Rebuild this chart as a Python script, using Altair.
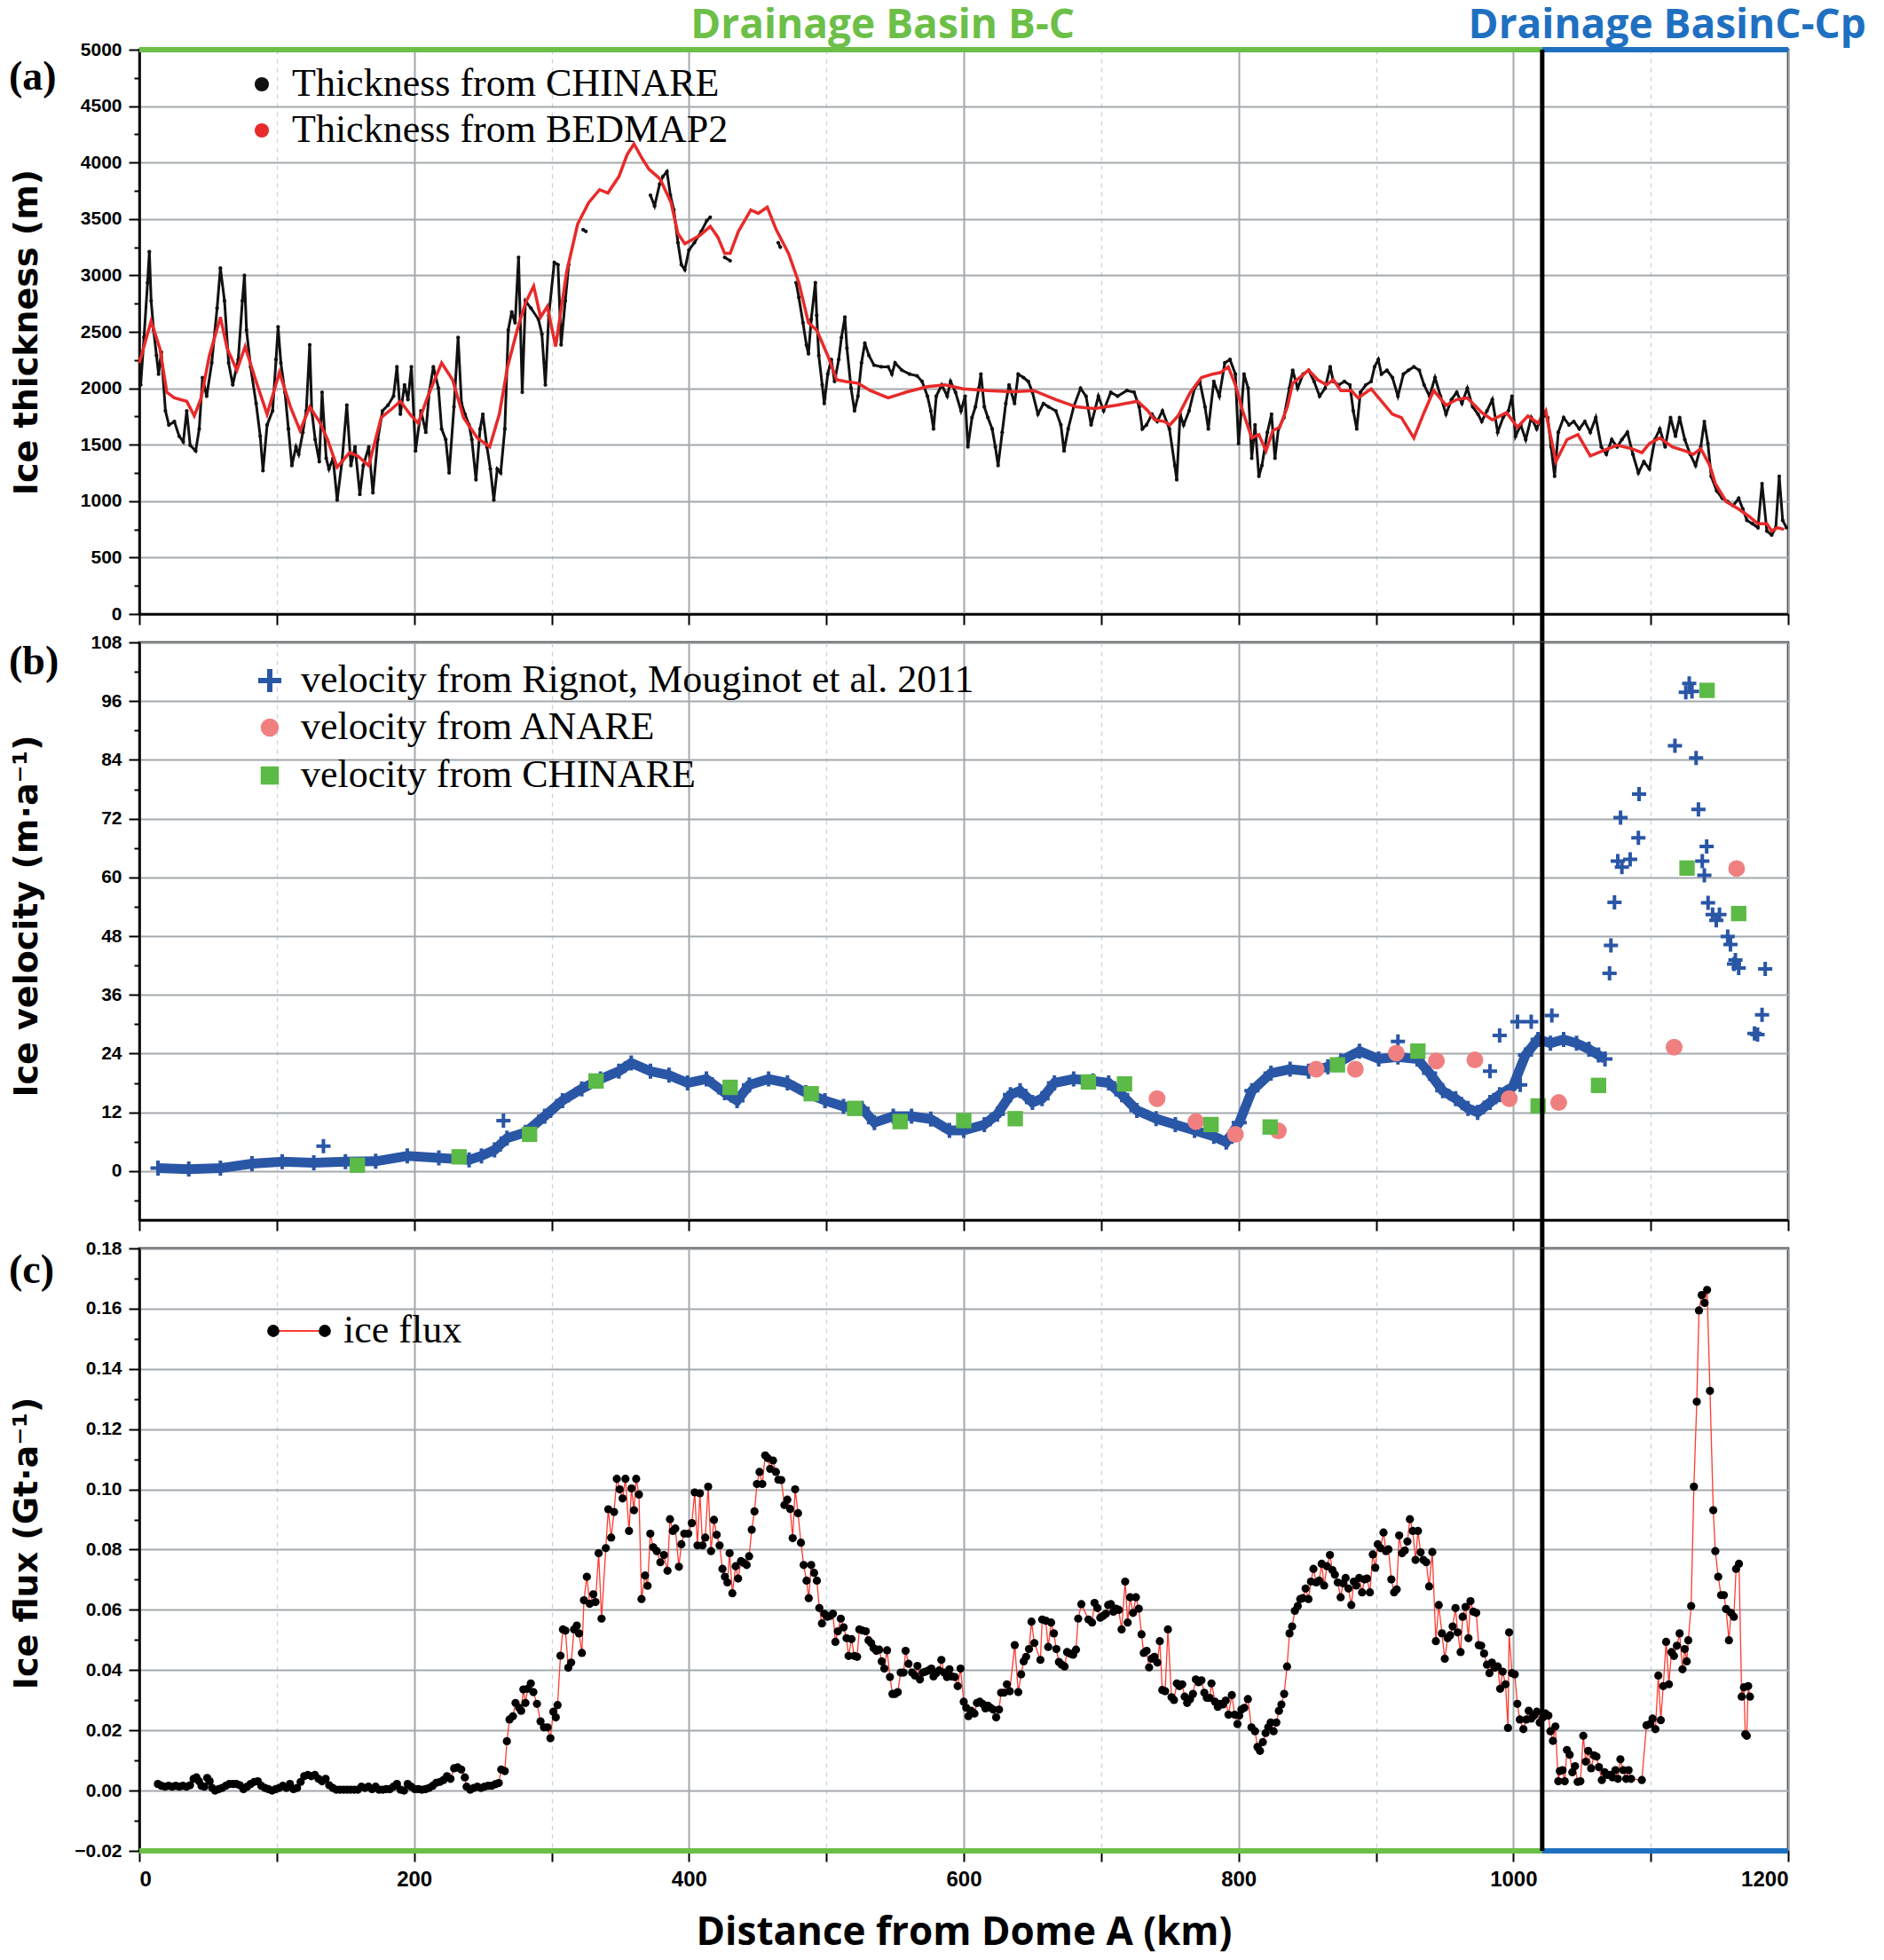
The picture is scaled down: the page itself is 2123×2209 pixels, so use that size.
import altair as alt
import pandas as pd

# ------------------------------------------------------------------ data
# (a) ice thickness, CHINARE radar (km, m)
thk_chinare = [
    (1, 2030), (3.4, 2450), (6, 2935), (7.3, 3210), (8.6, 2775), (10.4, 2515), (12.5, 2290), (14, 2125),
    (16, 2320), (19, 1800), (21.5, 1675), (25.5, 1705), (29, 1575), (32, 1525), (34.5, 1800), (37, 1495),
    (41, 1445), (43.6, 1640), (46, 2095), (49, 1930), (52.7, 2225), (56.6, 2710), (59, 3065), (62, 2775),
    (65, 2225), (68, 2030), (72, 2255), (75, 2775), (76.5, 3000), (78, 2515), (81, 2190), (85, 1865),
    (88, 1575), (90, 1270), (93, 1675), (97, 1800), (99.5, 2255), (101, 2545), (103, 2225), (106, 1965),
    (108.5, 1640), (111, 1315), (114, 1480), (116, 1415), (119, 1610), (121.5, 1800), (124, 2385),
    (125.5, 1800), (128, 1545), (131, 1350), (133, 1965), (136, 1380), (138, 1285), (141, 1380),
    (144, 1010), (147.5, 1350), (151, 1850), (154, 1315), (157, 1480), (160.5, 1060), (163, 1315),
    (167, 1480), (170, 1075), (173.5, 1545), (177, 1800), (181, 1850), (185, 1930), (187.5, 2190),
    (190, 1770), (193, 2030), (195.5, 1900), (198, 2190), (201, 1445), (205, 1800), (208.5, 1610),
    (211, 1965), (214, 2190), (217.7, 2000), (220, 1640), (223, 1545), (225.5, 1250), (229, 1835),
    (232, 2450), (234.5, 1865), (237, 1770), (240, 1675), (242, 1545), (245, 1190), (248, 1640),
    (250, 1770), (253, 1480), (255.5, 1285), (258, 1010), (260.5, 1285), (263, 1250), (266, 1640),
    (268.5, 2515), (271, 2675), (273.5, 2580), (276, 3160), (278.7, 1965), (281, 2775), (285, 2710),
    (290.5, 2610), (293, 2480), (295.5, 2030), (298, 2645), (302, 3115), (304.7, 3095), (307, 2385),
    (310, 2775), (312.5, 3095), (323, 3405), (325, 3390), (372, 3710), (375, 3615), (378.7, 3810),
    (381, 3875), (384, 3920), (386.5, 3710), (389, 3580), (392, 3290), (394.5, 3095), (397, 3050),
    (400, 3225), (404, 3290), (409, 3390), (413, 3485), (415.5, 3515), (426, 3160), (430, 3130),
    (465, 3290), (466.5, 3250), (478, 2935), (480, 2805), (483, 2580), (485.5, 2385), (487, 2305),
    (489, 2610), (492, 2935), (493, 2645), (494.5, 2290), (497, 2030), (498.5, 1865), (501, 2125),
    (503.6, 2255), (506, 2060), (509, 2255), (511, 2450), (513.5, 2630), (515, 2355), (518, 2000),
    (520.5, 1800), (523, 1930), (525.6, 2225), (528, 2400), (531, 2290), (534.7, 2205), (540, 2190),
    (545, 2190), (547.7, 2125), (550, 2225), (555, 2160), (560.6, 2125), (566, 2110), (569.7, 2060),
    (573.6, 1930), (576, 1800), (578, 1640), (580, 1930), (584, 2030), (588, 1930), (590.4, 2060),
    (594, 1965), (598, 1800), (601, 1930), (603, 1480), (606, 1740), (608.5, 1835), (611, 2000),
    (612.5, 2125), (615, 1835), (617.6, 1740), (620.7, 1640), (623, 1480), (625, 1315), (628, 1610),
    (630.6, 1865), (633, 2030), (637, 1865), (639.6, 2125), (643.5, 2095), (647, 2060), (650, 1965),
    (654, 1770), (658, 1865), (661.7, 1835), (667, 1800), (670.7, 1675), (673, 1445), (676, 1640),
    (680, 1835), (685, 2000), (689, 1930), (692.7, 1675), (698, 1930), (701.8, 1800), (707, 1965),
    (712, 1930), (718.7, 1980), (724, 1965), (727.7, 1835), (730, 1640), (733, 1675), (737, 1770),
    (740.8, 1705), (744.6, 1800), (749.7, 1640), (753.6, 1315), (755, 1190), (757.5, 1770), (760, 1675),
    (764, 1800), (768, 2000), (771.8, 2060), (775.6, 1835), (778, 1640), (782, 2060), (786, 1930),
    (790, 2225), (793.8, 2255), (797.7, 2125), (800, 1510), (802, 1800), (804, 2125), (807, 2000),
    (809.6, 1380), (812, 1675), (814.8, 1220), (817, 1315), (821, 1610), (824, 1770), (826.5, 1380),
    (829, 1640), (833, 1740), (837, 2000), (839.4, 2160), (843, 2000), (847, 2125), (851, 2160),
    (855, 2060), (859, 1930), (863, 2000), (866.7, 2190), (869, 2060), (873, 2030), (877, 2060),
    (881, 2030), (883.5, 1800), (886, 1640), (888.7, 1965), (892.6, 2030), (896.5, 2060), (899, 2190),
    (901.7, 2255), (904, 2125), (908, 2160), (912, 2095), (916, 1930), (920, 2125), (923.7, 2160),
    (927.6, 2190), (931.5, 2160), (935, 2030), (939, 1930), (943, 2095), (947, 1930), (951, 1770),
    (955, 1900), (958.8, 1965), (962.6, 1865), (966.5, 2000), (970.4, 1835), (974.3, 1770), (977, 1705),
    (980.8, 1800), (984.7, 1900), (988.6, 1610), (992.5, 1740), (996.4, 1800), (999, 1930),
    (1001.6, 1575), (1005.4, 1675), (1009, 1545), (1013, 1740), (1017, 1640), (1021, 1770), (1025, 1740),
    (1027.5, 1480), (1030, 1220), (1032.7, 1610), (1036.6, 1740), (1040.5, 1675), (1044, 1705),
    (1048, 1640), (1052, 1705), (1056, 1610), (1060, 1740), (1064, 1480), (1067.7, 1415), (1071.6, 1545),
    (1075.5, 1480), (1079, 1545), (1083, 1610), (1087, 1415), (1091, 1250), (1095, 1350), (1099, 1285),
    (1103, 1545), (1106.6, 1640), (1110.5, 1480), (1114.4, 1740), (1118, 1575), (1121, 1740),
    (1124.8, 1545), (1128.7, 1415), (1132.6, 1315), (1136.4, 1480), (1139, 1705), (1141.6, 1510),
    (1144, 1220), (1148, 1090), (1152, 1025), (1156, 995), (1160, 960), (1164, 1025), (1167, 930),
    (1170, 830), (1174, 800), (1178, 765), (1181, 1155), (1184.5, 735), (1188, 700), (1191, 765),
    (1193.5, 1220), (1196, 830), (1198.7, 765),
]

# (a) ice thickness, BEDMAP2 (km, m)
thk_bedmap = [
    (0, 2225), (8.6, 2595), (15, 2350), (20, 1965), (25.5, 1915), (34.5, 1885), (40, 1755), (45, 1915),
    (51, 2290), (59, 2630), (64, 2350), (71, 2160), (77, 2370), (85, 2060), (93, 1770), (102, 2140),
    (110, 1835), (117, 1625), (124, 1835), (131, 1705), (137, 1545), (144, 1300), (153, 1430),
    (159, 1400), (167, 1315), (176, 1740), (184, 1820), (190, 1885), (197, 1770), (203, 1690),
    (210, 1930), (220, 2225), (228, 2075), (236, 1740), (246, 1560), (255, 1480), (262, 1770),
    (268, 2190), (275, 2515), (281, 2755), (287, 2905), (292, 2630), (297, 2725), (303, 2370),
    (311, 3030), (319, 3455), (327, 3645), (335, 3760), (341, 3730), (349, 3875), (355, 4070),
    (360, 4165), (366, 4035), (371, 3940), (379, 3855), (387, 3645), (392, 3370), (397, 3280),
    (408, 3355), (415.5, 3435), (421, 3340), (426, 3195), (430, 3195), (436, 3390), (445, 3580),
    (450.5, 3550), (457, 3605), (463.5, 3405), (472.5, 3195), (480, 2935), (487, 2580), (493, 2515),
    (501, 2290), (507.5, 2075), (514, 2060), (523, 2045), (532, 1980), (545, 1915), (558, 1965),
    (573.5, 2015), (586.5, 2030), (599.5, 1995), (617.6, 1980), (635.8, 1970), (651, 1980), (667, 1900),
    (682, 1835), (695, 1820), (711, 1850), (726.5, 1885), (734, 1800), (739, 1720), (746, 1705),
    (750, 1675), (756, 1755), (765, 1965), (773, 2095), (781, 2125), (787, 2140), (792.5, 2190),
    (797.7, 2030), (803, 1800), (809.6, 1560), (814.8, 1590), (820, 1445), (825, 1625), (830, 1655),
    (835.5, 1835), (839.4, 2045), (846, 2110), (851, 2160), (857.6, 2075), (864, 2030), (869, 2075),
    (874.5, 1980), (882, 1980), (887, 1915), (896.5, 1995), (904, 1885), (912, 1770), (918.5, 1740),
    (927.6, 1560), (935, 1785), (942, 1980), (951, 1850), (958.8, 1900), (966.5, 1915), (977, 1785),
    (984.7, 1720), (995, 1785), (1003, 1655), (1010.6, 1755), (1018, 1690), (1023.6, 1800), (1026, 1640),
    (1031, 1350), (1039, 1545), (1047, 1590), (1056, 1400), (1065, 1445), (1075.5, 1495), (1086, 1465),
    (1093.6, 1430), (1099, 1510), (1106.6, 1560), (1115.7, 1480), (1124.8, 1445), (1131, 1415),
    (1136.4, 1465), (1143, 1315), (1147, 1155), (1155, 995), (1164, 930), (1171.5, 865), (1178, 800),
    (1184.5, 800), (1188, 735), (1192, 765), (1197, 750),
]

# (b) velocity, Rignot/Mouginot 2011 - continuous dense part (km, m/a)
vel_rignot_band = [
    (13.6, 0.6), (36, 0.4), (59, 0.6), (82, 1.5), (104, 1.9), (127, 1.7), (150, 1.9), (172, 2.0),
    (195, 3.1), (218, 2.7), (240, 2.3), (249, 3.1), (258.5, 4.3), (267.6, 6.7), (281, 7.9), (295, 11.2),
    (308, 14.4), (322, 16.8), (335.6, 18.8), (349, 20.4), (358, 22.1), (372, 20.4), (385.5, 19.6),
    (399, 18.0), (412.7, 18.8), (426, 16.0), (435, 14.4), (444, 17.6), (458, 18.8), (471.7, 18.0),
    (485, 16.0), (499, 14.4), (512.5, 13.2), (526, 12.8), (535, 9.9), (548.7, 11.2), (562, 11.2),
    (576, 10.6), (589.6, 8.3), (600, 8.3), (615, 9.5), (624.5, 11.6), (634, 15.6), (641, 16.4),
    (650, 14.0), (657, 14.8), (666, 18.0), (680, 18.8), (694, 18.4), (705.5, 18.0), (715, 15.6),
    (726, 12.4), (740, 10.7), (754, 9.5), (768, 8.3), (782, 7.1), (791, 5.9), (800.5, 9.9), (809.7, 16.4),
    (823.6, 20.0), (837.5, 20.8), (851, 20.4), (865, 21.3), (874.5, 22.5), (888, 24.5), (902, 22.9),
    (916, 23.3), (930, 22.9), (939, 20.0), (948.6, 16.4), (958, 14.8), (967, 12.8), (974, 12.0),
    (983, 14.0), (990, 15.6), (999.5, 17.2), (1008.8, 23.7), (1018, 26.9), (1027, 26.1), (1036.6, 26.9),
    (1046, 26.1), (1055, 24.9), (1062, 23.7), (1066.7, 22.9),
]
# (b) velocity, Rignot/Mouginot 2011 - isolated points (km, m/a)
vel_rignot_sparse = [
    (134, 5.1), (265, 10.3), (916, 26.5), (983, 20.4), (990, 27.7), (1003, 30.5), (1005, 17.6),
    (1013, 30.5), (1028, 31.8), (1070, 40.4), (1071, 46.1), (1073.6, 54.9), (1076, 63.3), (1079, 62.1),
    (1078, 72.2), (1085, 63.7), (1091, 68.1), (1091.5, 77.0), (1117.6, 86.9), (1125.5, 97.8),
    (1128, 99.6), (1130, 98.0), (1133, 84.4), (1134.7, 73.9), (1137.5, 63.3), (1139, 60.4),
    (1140.7, 66.3), (1141.7, 54.8), (1145, 52.4), (1147.7, 51.2), (1150, 52.4), (1156, 47.9),
    (1158, 46.3), (1160.6, 42.3), (1161.6, 43.1), (1164, 41.5), (1175.5, 28.1), (1177.7, 27.9),
    (1181, 31.9), (1183.3, 41.3),
]
vel_anare = [
    (740.7, 14.8), (769, 10.1), (797.7, 7.5), (829, 8.2), (856.5, 20.8), (885, 20.8), (914.8, 24.1),
    (944, 22.5), (972, 22.7), (997, 14.8), (1033, 14.0), (1117, 25.3), (1162.5, 61.8),
]
vel_chinare = [
    (158.7, 1.2), (232.7, 2.9), (284, 7.5), (332.4, 18.4), (430, 17.1), (489, 15.8), (520.6, 12.8),
    (553.7, 10.1), (600, 10.3), (637.5, 10.7), (690.7, 18.2), (717, 17.8), (780, 9.5), (823, 9.0),
    (872, 21.7), (930.5, 24.5), (1018, 13.3), (1062, 17.5), (1126.4, 61.9), (1141, 98.2), (1164, 52.6),
]

# (c) ice flux (km, Gt/a)
flux = [
    (13.5, 0.0022), (16.1, 0.0016), (18.7, 0.0013), (21.3, 0.0016), (23.9, 0.0013), (26.5, 0.0016),
    (29.1, 0.0013), (31.7, 0.0016), (34.3, 0.0013), (36.9, 0.0018), (39.5, 0.0039), (41.6, 0.0044),
    (43.4, 0.0031), (45.2, 0.0016), (47.3, 0.0013), (49.4, 0.0042), (51.2, 0.0031), (53, 0.0009),
    (55.1, 0.0), (57.7, 0.0005), (60.3, 0.0009), (62.9, 0.0016), (65.5, 0.0022), (68.1, 0.0022),
    (70.6, 0.0022), (73.2, 0.0018), (75.8, 0.0005), (78.4, 0.0013), (81, 0.0022), (83.6, 0.0029),
    (86.2, 0.0031), (88.8, 0.0016), (91.4, 0.0009), (94, 0.0005), (96.6, 0.0), (99.2, 0.0005),
    (101.8, 0.0009), (104.4, 0.0016), (107, 0.0009), (109.6, 0.0022), (112.2, 0.0005), (114.8, 0.0009),
    (117.4, 0.0029), (120, 0.0048), (122.6, 0.0052), (125.2, 0.0048), (127.8, 0.0052), (130.4, 0.0039),
    (133, 0.0031), (135.6, 0.0039), (138.2, 0.0018), (140.8, 0.0009), (143.4, 0.0003), (146, 0.0003),
    (148.6, 0.0003), (151.2, 0.0003), (153.8, 0.0003), (156.4, 0.0003), (159, 0.0003), (161.6, 0.0013),
    (164.2, 0.0009), (166.8, 0.0013), (169.4, 0.0005), (172, 0.0013), (174.5, 0.0003), (177.1, 0.0003),
    (179.7, 0.0005), (182.3, 0.0005), (184.9, 0.0013), (187.5, 0.0022), (190.1, 0.0003), (192.7, 0.0),
    (195.3, 0.0022), (197.9, 0.0013), (200.5, 0.0005), (203.1, 0.0005), (205.7, 0.0003), (208.3, 0.0005),
    (210.9, 0.0009), (213.5, 0.0016), (216.1, 0.0026), (218.7, 0.0029), (221.3, 0.0035), (223.9, 0.0048),
    (226.5, 0.0039), (229.1, 0.0074), (231.7, 0.0077), (234.3, 0.007), (236.9, 0.0044), (238.2, 0.0013),
    (240.8, 0.0003), (243.4, 0.0009), (246, 0.0013), (248.6, 0.0009), (251.2, 0.0013), (253.8, 0.0016),
    (256.4, 0.0016), (259, 0.0021), (261.6, 0.0025), (263.4, 0.007), (266, 0.0065), (267.5, 0.0164),
    (269.4, 0.0236), (271.9, 0.0247), (273.8, 0.0291), (276.4, 0.0275), (277.9, 0.0265), (279.5, 0.0336),
    (281, 0.0291), (282.6, 0.0338), (284.9, 0.0356), (286.8, 0.0327), (289.4, 0.0288), (292, 0.023),
    (294.5, 0.021), (297.1, 0.021), (299.2, 0.0174), (301.3, 0.0262), (303.1, 0.0243), (304.4, 0.0284),
    (306.5, 0.0448), (308.3, 0.0535), (310.1, 0.0531), (312.2, 0.0408), (314.3, 0.0425), (316.4, 0.0535),
    (318.4, 0.0548), (320, 0.0522), (322.1, 0.0457), (323.6, 0.0632), (325.7, 0.071), (327.8, 0.062),
    (330.4, 0.0652), (332, 0.0626), (334.3, 0.0788), (336.4, 0.0571), (339.5, 0.0805), (341.3, 0.0934),
    (343.4, 0.084), (345.5, 0.0925), (347.5, 0.1035), (349.6, 0.1), (351.7, 0.097), (353.8, 0.1035),
    (356.4, 0.0862), (358.2, 0.1003), (360, 0.0931), (361.6, 0.1035), (363.6, 0.0983), (365.5, 0.0636),
    (368.1, 0.0714), (369.9, 0.068), (371.9, 0.0853), (374, 0.0808), (376.6, 0.0795), (379.2, 0.0758),
    (381.8, 0.0782), (384.4, 0.073), (386.2, 0.0901), (388.3, 0.0862), (390.1, 0.087), (392.7, 0.0743),
    (394.5, 0.0818), (396.6, 0.0853),
    (399.5, 0.0853), (402.1, 0.0888), (404.2, 0.099), (406.2, 0.0814), (408, 0.0987), (409.9, 0.0814),
    (411.9, 0.084), (414, 0.1009), (416.1, 0.0795), (418.2, 0.0899), (420.2, 0.0849), (422.3, 0.0814),
    (424.4, 0.0736), (426.2, 0.071), (428, 0.0691), (429.6, 0.0788), (431.6, 0.0655), (434, 0.0745),
    (435.8, 0.0704), (437.9, 0.0762), (439.9, 0.0756), (442, 0.0749), (443.8, 0.0778), (445.7, 0.0866),
    (447.7, 0.0927), (449.5, 0.1018), (451.4, 0.1058), (453.4, 0.1018), (455.5, 0.1113), (457.3, 0.1104),
    (459.1, 0.1068), (461.2, 0.1096), (463.3, 0.1058), (465.1, 0.1032), (467.2, 0.1031), (469.5, 0.0948),
    (471.6, 0.0966), (473.7, 0.0935), (475.5, 0.0838), (477.3, 0.1), (479.4, 0.0921), (481.5, 0.0823),
    (483.5, 0.0749), (485.6, 0.0697), (487.2, 0.0639), (489, 0.0749), (491.1, 0.0723), (493.1, 0.0697),
    (494.9, 0.0606), (496.8, 0.0555), (498.6, 0.0587), (500.6, 0.0577), (502.7, 0.058), (504.8, 0.0587),
    (506.6, 0.0494), (508.4, 0.0529), (510.5, 0.0571), (512.6, 0.0542), (514.7, 0.0506), (516.2, 0.0447),
    (518.3, 0.0503), (520.4, 0.0447), (522.4, 0.0444), (524, 0.0535), (526.1, 0.0532), (528.7, 0.0529),
    (530.7, 0.0499), (532.6, 0.049), (534.4, 0.0473), (536.4, 0.0464), (538.5, 0.0468), (540.3, 0.0429),
    (542.2, 0.0405), (544.2, 0.0466), (546.3, 0.0377), (548.1, 0.0321), (549.9, 0.0321), (552, 0.0327),
    (554.1, 0.0392), (556.2, 0.0392), (557.7, 0.0464), (559.8, 0.0421), (562.4, 0.0392), (564.5, 0.0382),
    (566.3, 0.0414), (568.1, 0.0369), (570.2, 0.0392), (572.2, 0.0395), (574.3, 0.0399), (576.4, 0.0405),
    (578, 0.0379), (580, 0.039), (582.1, 0.0399), (583.7, 0.0434), (585.7, 0.0392), (587.8, 0.0377),
    (589.6, 0.0403), (591.4, 0.0379), (593.5, 0.0377), (595.6, 0.0347), (597.7, 0.0405), (600, 0.0295),
    (601.8, 0.0275), (603.4, 0.0247), (605.4, 0.0265), (607.8, 0.0256), (609.6, 0.0291), (611.7, 0.0295),
    (613.7, 0.0288), (615.8, 0.0273), (617.6, 0.0282), (619.5, 0.0275), (621.5, 0.0269), (623.6, 0.0243),
    (625.7, 0.0269), (627.2, 0.0325), (629.3, 0.0325), (631.4, 0.0353), (633.5, 0.033), (637.1, 0.0483),
    (639.7, 0.0327), (641.8, 0.0386), (643.6, 0.0429), (645.4, 0.0444), (647.5, 0.047), (649.3, 0.0561),
    (651.4, 0.049), (655.8, 0.0434), (657.1, 0.0568), (659.7, 0.0564), (661.5, 0.0477), (663.6, 0.0558),
    (665.6, 0.0522), (667.4, 0.047), (669.3, 0.0427), (671.3, 0.0418), (673.4, 0.0412), (675.2, 0.046),
    (677.3, 0.0455), (679.6, 0.0451), (681.7, 0.0468), (683.3, 0.0571), (685.6, 0.0619), (690.8, 0.0568),
    (693.4, 0.0558), (695.2, 0.0623), (697.3, 0.0606), (699.4, 0.0574), (701.4, 0.058), (703.5, 0.0587),
    (705.1, 0.0616), (707.1, 0.0619), (708.9, 0.0594), (710.8, 0.0604), (712.8, 0.06), (714.9, 0.0535),
    (717.5, 0.0694), (719.3, 0.0558), (721.1, 0.0642), (723.2, 0.059), (725.3, 0.0642), (727.4, 0.0604),
    (729.4, 0.0519), (731, 0.0457), (733.1, 0.0464), (734.9, 0.0409), (736.7, 0.0438), (738.8, 0.0444),
    (740.9, 0.0425), (742.7, 0.0496), (744.5, 0.0334), (746.6, 0.033), (748.6, 0.0535), (751.2, 0.031),
    (753, 0.0301), (755.1, 0.0356), (756.9, 0.0347), (759, 0.0353), (760.8, 0.0312), (762.6, 0.0291),
    (764.7, 0.0304), (766.8, 0.0321), (768.9, 0.0369), (770.9, 0.036), (773, 0.0366), (775.1, 0.0325),
    (776.9, 0.0308), (779, 0.0308), (780.3, 0.0356), (782.9, 0.0295), (784.9, 0.0278), (786.8, 0.0288),
    (788.6, 0.0286), (790.7, 0.0299), (792.7, 0.0252), (795.1, 0.0317), (797.2, 0.0252), (799.2, 0.0221),
    (800.5, 0.0249), (802.1, 0.0269), (804.2, 0.0275), (806.8, 0.0304), (809.4, 0.021), (812, 0.0197),
    (813.8, 0.0145), (815.6, 0.0132), (817.7, 0.0161), (819.7, 0.0191), (821.6, 0.021), (823.4, 0.0226),
    (825.5, 0.0197), (827.5, 0.0226), (829.4, 0.0265), (831.2, 0.0286), (833.2, 0.0321), (835.3, 0.0412),
    (837.1, 0.0522), (839, 0.0545), (841, 0.0597), (843.1, 0.0613), (844.9, 0.0636), (846.8, 0.0639),
    (848.8, 0.0671), (850.9, 0.0636), (852.7, 0.0694), (854.5, 0.0736), (856.6, 0.0691), (858.7, 0.0697),
    (860.5, 0.0753), (862.3, 0.0681), (864.4, 0.0745), (866.5, 0.0782), (868.3, 0.0732), (870.1, 0.0717),
    (872.2, 0.0691), (874.3, 0.0642), (876.1, 0.0688), (877.9, 0.0706), (880, 0.0671), (882.1, 0.0616),
    (883.9, 0.0694), (885.7, 0.0681), (887.8, 0.0706), (889.9, 0.0658), (891.7, 0.0701), (893.5, 0.0704),
    (895.6, 0.0658), (897.7, 0.0784), (899.5, 0.074), (901.3, 0.0818), (903.4, 0.0805), (905.5, 0.0857),
    (907.3, 0.0795), (909.1, 0.0801), (911.2, 0.0701), (913.2, 0.0658), (915.1, 0.0668), (916.9, 0.0847),
    (919, 0.0788), (921, 0.0797), (922.9, 0.0827), (924.7, 0.0901), (926.8, 0.0862), (928.8, 0.0766),
    (930.6, 0.0862), (932.5, 0.0791), (934.5, 0.0766), (936.6, 0.0758), (938.7, 0.0678), (941, 0.0792),
    (943.6, 0.0496), (945.7, 0.0616), (948, 0.0522), (950.1, 0.0438), (952.2, 0.0506), (954, 0.0516),
    (955.8, 0.0545), (957.9, 0.0606), (959.5, 0.0525), (961.6, 0.046), (963.1, 0.0577), (965.2, 0.061),
    (967.3, 0.0506), (968.8, 0.0629), (970.9, 0.0594), (973, 0.059), (974.8, 0.0483), (976.6, 0.0481),
    (978.7, 0.0455), (980.8, 0.0418), (982.6, 0.039), (984.4, 0.0425), (986.5, 0.0408), (988.6, 0.0412),
    (990.4, 0.0338), (992.2, 0.0395), (994.3, 0.0353), (996.1, 0.0208), (996.9, 0.0525), (999, 0.039),
    (1001, 0.0386), (1002.9, 0.0288), (1004.7, 0.0236), (1007.3, 0.0204), (1009.4, 0.0236),
    (1011.2, 0.0265), (1013, 0.0239), (1015.1, 0.0249), (1017.1, 0.0262), (1019.2, 0.0226),
    (1021.6, 0.0243), (1023.4, 0.0256), (1025.5, 0.0249), (1027, 0.0197), (1028.8, 0.0165),
    (1030.6, 0.0213), (1032.7, 0.0031), (1033.8, 0.0065), (1035.8, 0.0068), (1037.4, 0.0031),
    (1039, 0.0135), (1041, 0.0119), (1042.9, 0.0061), (1044.9, 0.0081), (1046.8, 0.0029), (1048.8, 0.0031),
    (1050.9, 0.0182), (1052.7, 0.0096), (1054.5, 0.0132), (1056.6, 0.0074), (1058.7, 0.0117),
    (1060.5, 0.0113), (1062.3, 0.0078), (1064.4, 0.0035), (1066.5, 0.0061), (1068.3, 0.0052),
    (1070.9, 0.0052), (1072.2, 0.0044), (1074.3, 0.0068), (1076.1, 0.0039), (1077.9, 0.0104),
    (1080, 0.0068), (1082.1, 0.0039), (1083.9, 0.0068), (1085.7, 0.0039), (1093.5, 0.0035),
    (1096.9, 0.0217), (1099.5, 0.0221), (1101.3, 0.0239), (1103.4, 0.0204), (1105.5, 0.0382),
    (1107.3, 0.0234), (1109.1, 0.0347), (1111.2, 0.0494), (1113.2, 0.0353), (1115.1, 0.046),
    (1116.9, 0.0447), (1119, 0.0481), (1121, 0.0522), (1123.1, 0.0403), (1124.7, 0.047), (1126.2, 0.0429),
    (1127.3, 0.0499), (1129.4, 0.0613), (1131.4, 0.1009), (1133.5, 0.1291), (1135.1, 0.1594),
    (1137.1, 0.1645), (1139.2, 0.1619), (1141, 0.1662), (1143.1, 0.1327), (1145.5, 0.0931), (1147, 0.0795),
    (1149.1, 0.071), (1151.2, 0.0649), (1153.2, 0.0649), (1154.8, 0.0603), (1156.9, 0.0499),
    (1158.4, 0.059), (1160.5, 0.0577), (1162.1, 0.0736), (1164.2, 0.0753), (1166.2, 0.0312),
    (1167.8, 0.0343), (1168.8, 0.0187), (1169.9, 0.0182), (1170.9, 0.0347), (1172.2, 0.0312),
]

# drainage basins along the traverse
basin_names = ["Drainage Basin B-C", "Drainage BasinC-Cp"]
basin_start_km = [0, 1021]
basin_end_km = [1021, 1200]
basin_title_km = [541, 1112]
basin_colors = ["#6cbf47", "#1f70c1"]
boundary_km = [1021]

legend_a = ["Thickness from CHINARE", "Thickness from BEDMAP2"]
legend_b = ["velocity from Rignot, Mouginot et al. 2011", "velocity from ANARE", "velocity from CHINARE"]
legend_c = ["ice flux"]
panel_tags = ["(a)", "(b)", "(c)"]

# ------------------------------------------------------------------ styling
W = 1858
HA, HB, HC = 636, 651, 679
GAP = 32
RED = "#e82a2a"
BLUE = "#2a56a6"
PINK = "#f08080"
GREEN_SQ = "#5cba46"
SERIF = "Liberation Serif"
TICKFONT = "Liberation Sans Narrow, Liberation Sans, Arial, sans-serif"
SANS_B = "DejaVu Sans"
TITLEFONT = "Open Sans"


def frame(pairs, ycol):
    return pd.DataFrame({"km": [p[0] for p in pairs], ycol: [p[1] for p in pairs]})


xscale = alt.Scale(domain=[0, 1200], nice=False, zero=False)
x_vals = list(range(0, 1201, 100))
xmajor = "datum.value % 200 === 0"


def x_axis(with_labels):
    kw = dict(
        values=x_vals, tickSize=12, tickWidth=2, grid=True,
        gridDash={"condition": {"test": xmajor, "value": [1, 0]}, "value": [5, 5]},
        gridColor={"condition": {"test": xmajor, "value": "#a4a9ae"}, "value": "#c7d3dc"},
        gridWidth={"condition": {"test": xmajor, "value": 2}, "value": 1.3},
    )
    if with_labels:
        kw.update(
            labelExpr=f"{xmajor} ? datum.label : ''", format="d", labelFontSize=24, labelPadding=8,
            title="Distance from Dome A (km)", titleFont=TITLEFONT, titleFontSize=44,
            titleFontWeight="bold", titleColor="black", titleX=W / 2, titleY=92,
            titleAlign="center", titleBaseline="middle",
        )
    else:
        kw.update(labels=False, title=None)
    return alt.Axis(**kw)


def y_axis(vals, major, fmt, title, title_y):
    return alt.Axis(
        values=vals, format=fmt, labelExpr=f"{major} ? datum.label : ''",
        tickSize={"condition": {"test": major, "value": 12}, "value": 6},
        gridOpacity={"condition": {"test": major, "value": 1}, "value": 0},
        labelPadding=8,
        title=title, titleX=-127, titleY=title_y, titleAngle=270, titleAlign="center",
        titleBaseline="middle", titleFont=SANS_B, titleFontSize=38, titleFontWeight="bold",
        titleColor="black",
    )


def X(with_labels=False):
    return alt.X("km:Q", scale=xscale, axis=x_axis(with_labels))


basins = pd.DataFrame({"name": basin_names, "km": basin_start_km, "km2": basin_end_km,
                       "tkm": basin_title_km})
bcolor = alt.Color("name:N", scale=alt.Scale(domain=basin_names, range=basin_colors), legend=None)
bound_df = pd.DataFrame({"km": boundary_km})


def vline(y0, y1):
    return alt.Chart(bound_df).mark_rule(color="black", strokeWidth=5).encode(
        x=alt.X("km:Q", scale=xscale), y=alt.value(y0), y2=alt.value(y1))


def tag(text, y):
    return alt.Chart(pd.DataFrame({"t": [text]})).mark_text(
        align="left", baseline="middle", font=SERIF, fontSize=46, fontWeight="bold", color="black"
    ).encode(x=alt.value(-147), y=alt.value(y), text="t:N")


def legend_text(text, x, y, size=44):
    return alt.Chart(pd.DataFrame({"t": [text]})).mark_text(
        align="left", baseline="middle", font=SERIF, fontSize=size, color="black"
    ).encode(x=alt.value(x), y=alt.value(y), text="t:N")


def legend_dot(x, y, color, shape="circle", size=260, filled=True, sw=0):
    return alt.Chart(pd.DataFrame({"t": [0]})).mark_point(
        shape=shape, size=size, filled=filled, color=color, opacity=1, strokeWidth=sw
    ).encode(x=alt.value(x), y=alt.value(y))


# ------------------------------------------------------------------ panel (a)
ya_scale = alt.Scale(domain=[0, 5000], nice=False)
ya_axis = y_axis(list(range(0, 5001, 250)), "datum.value % 500 === 0", "d", "Ice thickness (m)", 318)

chin = frame(thk_chinare, "thk")
chin["seg"] = (chin["km"].diff().fillna(0) > 8).cumsum()
bed = frame(thk_bedmap, "thk")

a_chin = alt.Chart(chin).mark_line(color="#111111", strokeWidth=3).encode(
    x=X(), y=alt.Y("thk:Q", scale=ya_scale, axis=ya_axis), detail="seg:N")
a_chin_pts = alt.Chart(chin).mark_circle(color="#111111", size=18, opacity=1).encode(
    x=X(), y=alt.Y("thk:Q", scale=ya_scale, axis=ya_axis))
a_bed = alt.Chart(bed).mark_line(color=RED, strokeWidth=3.5).encode(
    x=X(), y=alt.Y("thk:Q", scale=ya_scale, axis=ya_axis))
a_top = alt.Chart(basins).mark_rule(strokeWidth=6).encode(
    x=alt.X("km:Q", scale=xscale), x2="km2:Q", y=alt.value(0), color=bcolor)
a_titles = alt.Chart(basins).mark_text(
    font=TITLEFONT, fontSize=46, fontWeight="bold", align="center", baseline="middle"
).encode(x=alt.X("tkm:Q", scale=xscale), y=alt.value(-27), text="name:N", color=bcolor)

panel_a = alt.layer(
    a_chin, a_chin_pts, a_bed, a_top, vline(0, HA + GAP), a_titles, tag(panel_tags[0], 31),
    legend_dot(138, 39, "#111111"), legend_text(legend_a[0], 172, 39),
    legend_dot(138, 91, RED), legend_text(legend_a[1], 172, 91),
).properties(width=W, height=HA)

# ------------------------------------------------------------------ panel (b)
yb_scale = alt.Scale(domain=[-10, 108], nice=False)
yb_axis = y_axis(list(range(-6, 109, 6)), "datum.value % 12 === 0", "d", "Ice velocity (m·a⁻¹)", 308)
PLUS = "M-1,0L1,0M0,-1L0,1"

band = frame(vel_rignot_band, "v")
sparse = frame(vel_rignot_sparse, "v")
anare = frame(vel_anare, "v")
chv = frame(vel_chinare, "v")

b_band = alt.Chart(band).mark_line(color=BLUE, strokeWidth=11).encode(
    x=X(), y=alt.Y("v:Q", scale=yb_scale, axis=yb_axis))
b_band_pts = alt.Chart(band).mark_point(shape=PLUS, size=289, filled=False, color=BLUE,
                                        strokeWidth=4, opacity=1).encode(
    x=X(), y=alt.Y("v:Q", scale=yb_scale, axis=yb_axis))
b_sparse = alt.Chart(sparse).mark_point(shape=PLUS, size=256, filled=False, color=BLUE,
                                        strokeWidth=4, opacity=1).encode(
    x=X(), y=alt.Y("v:Q", scale=yb_scale, axis=yb_axis))
b_anare = alt.Chart(anare).mark_point(shape="circle", size=360, filled=True, color=PINK,
                                      opacity=1).encode(
    x=X(), y=alt.Y("v:Q", scale=yb_scale, axis=yb_axis))
b_chv = alt.Chart(chv).mark_point(shape="square", size=300, filled=True, color=GREEN_SQ,
                                  opacity=1).encode(
    x=X(), y=alt.Y("v:Q", scale=yb_scale, axis=yb_axis))

panel_b = alt.layer(
    b_band, b_band_pts, b_sparse, b_anare, b_chv, vline(0, HB + GAP), tag(panel_tags[1], 22),
    legend_dot(147, 43, BLUE, shape=PLUS, size=676, filled=False, sw=6),
    legend_text(legend_b[0], 182, 43),
    legend_dot(147, 96, PINK, size=420), legend_text(legend_b[1], 182, 96),
    legend_dot(147, 150, GREEN_SQ, shape="square", size=420), legend_text(legend_b[2], 182, 150),
).properties(width=W, height=HB)

# ------------------------------------------------------------------ panel (c)
yc_scale = alt.Scale(domain=[-0.02, 0.18], nice=False)
yc_axis = y_axis([round(-0.02 + 0.01 * i, 2) for i in range(21)],
                 "abs(round(datum.value * 100)) % 2 === 0", ".2f", "Ice flux (Gt·a⁻¹)", 332)

fl = frame(flux, "q")
c_line = alt.Chart(fl).mark_line(color="#ff3b30", strokeWidth=1.3).encode(
    x=X(True), y=alt.Y("q:Q", scale=yc_scale, axis=yc_axis))
c_pts = alt.Chart(fl).mark_circle(color="black", size=85, opacity=1).encode(
    x=X(True), y=alt.Y("q:Q", scale=yc_scale, axis=yc_axis))
c_bottom = alt.Chart(basins).mark_rule(strokeWidth=6).encode(
    x=alt.X("km:Q", scale=xscale), x2="km2:Q", y=alt.value(HC), color=bcolor)
c_leg_line = alt.Chart(pd.DataFrame({"t": [0]})).mark_rule(color="#ff3b30", strokeWidth=2).encode(
    x=alt.value(151), x2=alt.value(209), y=alt.value(93))

panel_c = alt.layer(
    c_line, c_pts, c_bottom, vline(0, HC), tag(panel_tags[2], 25),
    c_leg_line, legend_dot(151, 93, "black", size=190), legend_dot(209, 93, "black", size=190),
    legend_text(legend_c[0], 230, 93),
).properties(width=W, height=HC)

chart = alt.vconcat(panel_a, panel_b, panel_c, spacing=GAP, bounds="flush").properties(
    padding={"left": 0, "top": -4, "right": 0, "bottom": 0}
).configure_view(stroke="black", strokeWidth=2.5).configure_axis(
    domainColor="black", domainWidth=2.5, tickColor="black", tickWidth=2,
    gridColor="#a4a9ae", gridWidth=2, labelFont=TICKFONT, labelFontWeight="bold",
    labelColor="black", labelFontSize=21,
)

chart.save("out.html", embed_options={"renderer": "svg", "actions": False})
